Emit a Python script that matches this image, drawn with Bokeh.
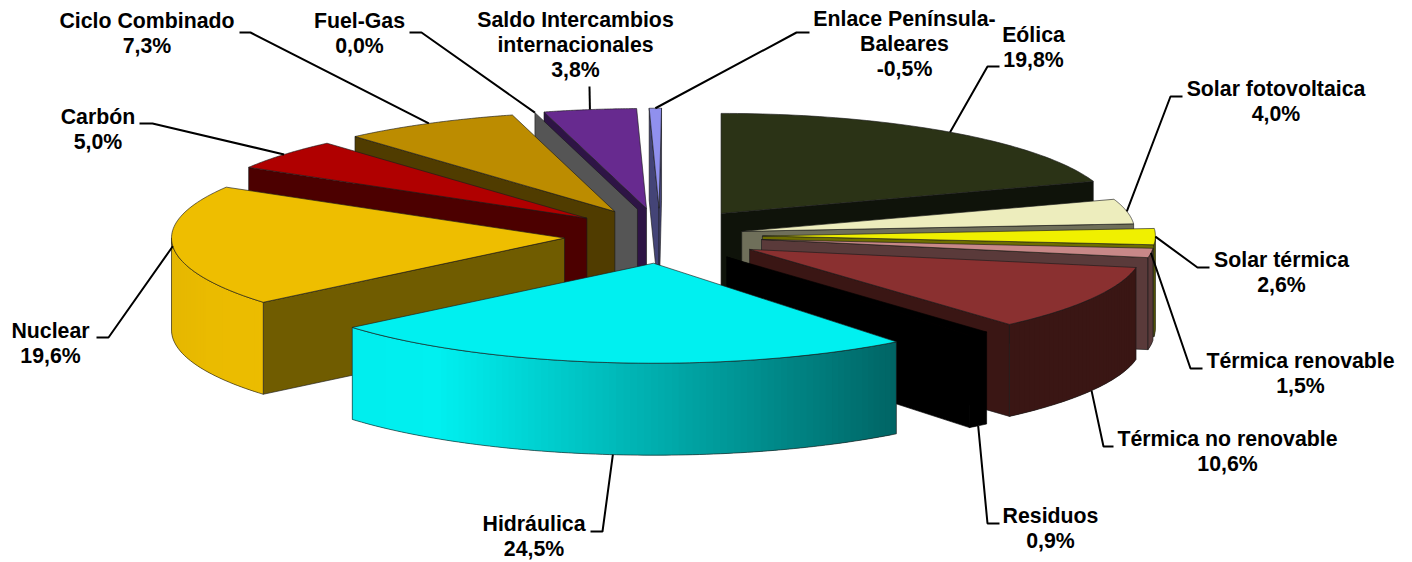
import numpy as np
from bokeh.core.properties import value
from bokeh.embed import file_html
from bokeh.models import ColumnDataSource, Range1d
from bokeh.plotting import figure
from bokeh.resources import INLINE

# ---- data -------------------------------------------------------------
categories = ["Eólica", "Solar fotovoltaica", "Solar térmica", "Térmica renovable",
              "Térmica no renovable", "Residuos", "Hidráulica", "Nuclear", "Carbón",
              "Ciclo Combinado", "Fuel-Gas", "Saldo Intercambios\ninternacionales",
              "Enlace Península-\nBaleares"]
shares = [19.8, 4.0, 2.6, 1.5, 10.6, 0.9, 24.5, 19.6, 5.0, 7.3, 0.0, 3.8, -0.5]

# ---- styles -----------------------------------------------------------
top_colors = ["#2b3316", "#ededbd", "#f0f000", "#c88888", "#8a3030", "#000000", "#00f0f0",
              "#eebe00", "#b00000", "#bc8c00", "#808080", "#672a8f", "#9090ee"]
wall_colors = ["#0f130a", "#6f6f5a", "#6e6e00", "#5a3a3a", "#3a1614", "#000000", "#006464",
               "#705c00", "#4c0000", "#503c00", "#555555", "#2e1445", "#444477"]
edge_colors = ["#1a1a1a", "#1a1a1a", "#1a1a1a", "#1a1a1a", "#1a1a1a", "#000000", "#1a1a1a",
               "#1a1a1a", "#1a1a1a", "#1a1a1a", "#1a1a1a", "#1a1a1a", "#1a1a1a"]
explode = [0.26, 0.21, 0.26, 0.26, 0.26, 0.26, 0.26, 0.26, 0.26, 0.26, 0.26, 0.26, 0.26]
nudge_x = [0, 0, 0, 0, 0, 0, 0.5, 0, 0, -1.5, 0, -2.5, -3.3]
draw_order = [0, 1, 2, 3, 4, 5, 12, 11, 10, 9, 8, 7, 6]

# layout of the projected pie (page pixels)
CX, CY, RX, RY, DEPTH = 662.8, 235.3, 393.0, 100.0, 92.0
EX, EY = 0.97, 1.06
DEG_PER_PCT = 3.6

# leader elbow x, elbow y, end x; text centre x, first line y
elbows = [(987, 66, 999), (1170, 96, 1182), (1197, 267, 1209), (1190, 368, 1202),
          (1103, 446, 1113), (987, 523, 999), (602, 531, 590), (108, 337, 96),
          (152, 123, 139), (250, 32, 239), (421, 32, 409), (589, 86, 589), (796, 32, 809)]
label_xy = [(1033, 34), (1275.5, 88), (1281, 259), (1300, 360), (1227, 438), (1050, 515),
            (533.5, 523), (50, 330), (97.5, 116), (146.5, 20), (359, 20), (575, 19), (904, 18)]
LINE_H = 25.0


def hex2rgb(h):
    return np.array([int(h[i:i + 2], 16) for i in (1, 3, 5)], float)


def rgb2hex(c):
    return "#%02x%02x%02x" % tuple(int(round(v)) for v in c)


def rim_mix(top, wall, s):
    """Rim colour as a function of sin(angle): bright on the left, wall-dark on the right."""
    k = np.interp(s, [-1, -0.9, -0.55, 0.62], [0.93, 0.97, 1.0, 0.0])
    return rgb2hex(hex2rgb(wall) + (hex2rgb(top) - hex2rgb(wall)) * k)


# ---- geometry from the values -------------------------------------------
ends = np.cumsum(np.abs(shares)) * DEG_PER_PCT
starts = np.concatenate([[0], ends[:-1]])
mids = (starts + ends) / 2
apex = [(CX + n + EX * e * RX * np.sin(np.radians(m)), CY - EY * e * RY * np.cos(np.radians(m)))
        for e, m, n in zip(explode, mids, nudge_x)]


def arc(i, a0, a1, n=60):
    t = np.radians(np.linspace(a0, a1, n))
    return apex[i][0] + RX * np.sin(t), apex[i][1] - RY * np.cos(t)


P = dict(xs=[], ys=[], fill=[], falpha=[], line=[], lw=[], lalpha=[])


def add(xs, ys, fill, falpha=1.0, line="#1a1a1a", lw=0.8, lalpha=0.8):
    P["xs"].append(list(map(float, xs)))
    P["ys"].append(list(map(float, ys)))
    P["fill"].append(fill)
    P["falpha"].append(falpha)
    P["line"].append(line)
    P["lw"].append(lw)
    P["lalpha"].append(lalpha)


def wall(i, ang):
    ax, ay = apex[i]
    ox, oy = arc(i, ang, ang, 1)
    add([ax, ox[0], ox[0], ax], [ay, oy[0], oy[0] + DEPTH, ay + DEPTH], wall_colors[i],
        line=edge_colors[i])


for i in draw_order:
    a0, a1 = starts[i], ends[i]
    ax, ay = apex[i]
    if np.sin(np.radians(a0)) < -1e-6:
        wall(i, a0)
    if np.sin(np.radians(a1)) > 1e-6:
        wall(i, a1)
    r0, r1 = max(a0, 90), min(a1, 270)
    if r1 > r0:
        n = max(3, int((r1 - r0) * 1.0))
        x, y = arc(i, r0, r1, n)
        for k in range(n - 1):
            s = np.sin(np.radians((r0 + (r1 - r0) * (k + 0.5) / (n - 1))))
            c = rim_mix(top_colors[i], wall_colors[i], s)
            e = min(k + 2, n - 1)  # each band runs under the next one, so no seams show
            xb = x[k:e + 1]
            yb = y[k:e + 1]
            add(np.r_[xb, xb[::-1]], np.r_[yb, yb[::-1] + DEPTH], c, lalpha=0.0, lw=0.0)
        add(np.r_[x, x[::-1]], np.r_[y, y[::-1] + DEPTH], "#000000", falpha=0.0, line=edge_colors[i])
    if a1 > a0:
        x, y = arc(i, a0, a1)
        add(np.r_[ax, x], np.r_[ay, y], top_colors[i], line=edge_colors[i])

# ---- leaders and texts ---------------------------------------------------
lead_x, lead_y, tx, ty, tt = [], [], [], [], []
for i, name in enumerate(categories):
    m = np.radians(mids[i])
    sx = apex[i][0] + RX * np.sin(m)
    sy = apex[i][1] - RY * np.cos(m)
    if -np.cos(m) > 0.3:
        sy += DEPTH
    ex, ey, fx = elbows[i]
    lead_x.append([float(sx), ex, fx])
    lead_y.append([float(sy), ey, ey])
    lines = name.split("\n") + [f"{shares[i]:.1f}".replace(".", ",") + "%"]
    for j, t in enumerate(lines):
        tx.append(label_xy[i][0])
        ty.append(label_xy[i][1] + j * LINE_H)
        tt.append(t)

p = figure(width=1412, height=562, output_backend="svg", toolbar_location=None,
           x_range=Range1d(0, 1412), y_range=Range1d(562, 0),
           min_border=0, outline_line_color=None, background_fill_color="white")
p.xaxis.visible = False
p.yaxis.visible = False
p.grid.visible = False

p.patches("xs", "ys", source=ColumnDataSource(P), fill_color="fill", fill_alpha="falpha",
          line_color="line", line_width="lw", line_alpha="lalpha", line_join="round")
p.multi_line(lead_x, lead_y, line_color="black", line_width=2)
p.text(tx, ty, text=tt, text_font=value("Liberation Sans"), text_font_style="bold",
       text_font_size="21.3px", text_color="black", text_align="center", text_baseline="middle")

open("out.html", "w").write(file_html(p, INLINE))
